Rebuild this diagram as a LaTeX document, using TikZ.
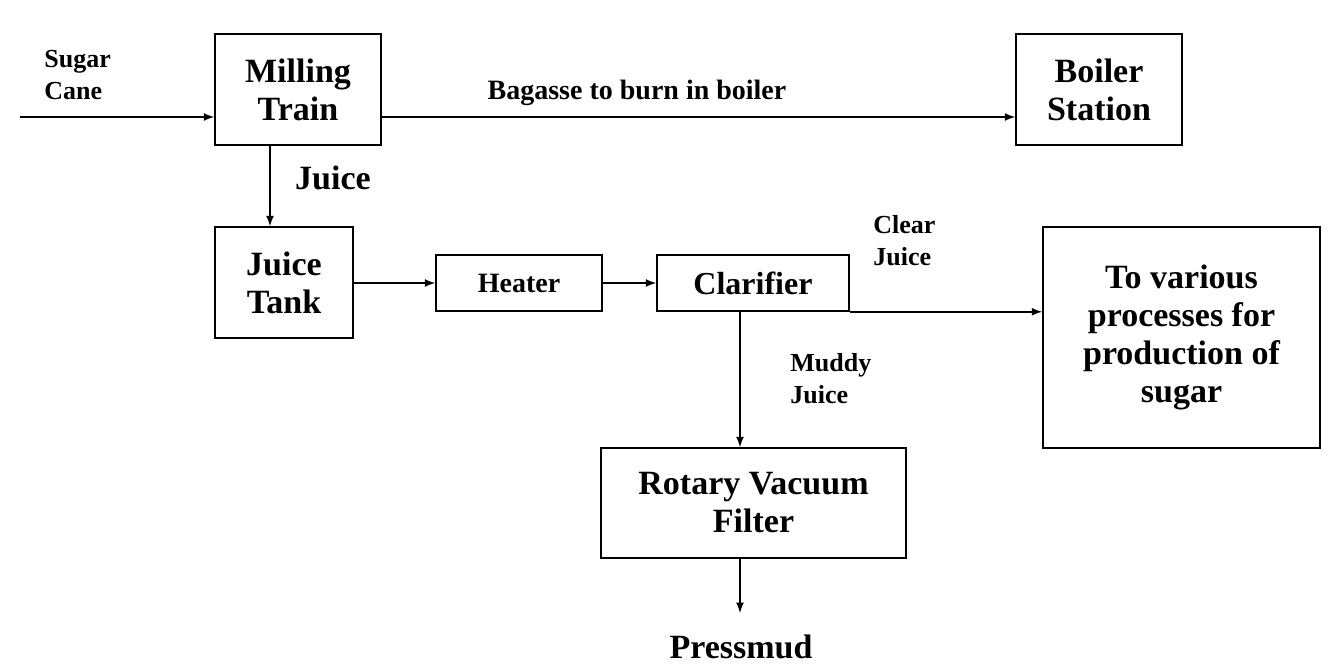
\documentclass[tikz,border=0pt]{standalone}
\usepackage{fontspec}
\setmainfont{Liberation Serif}
\usetikzlibrary{arrows, positioning}

\begin{document}
\begin{tikzpicture}[x=0.5pt, y=-0.5pt]
    \tikzstyle{block} = [rectangle, draw=black, thick, font=\bfseries\fontsize{17}{19}\selectfont, align=center, inner sep=0pt]
    \tikzstyle{small} = [rectangle, draw=black, thick, font=\bfseries\fontsize{14}{16}\selectfont, align=center, inner sep=0pt]
    \tikzstyle{label} = [font=\bfseries\fontsize{13}{16}\selectfont, align=left, inner sep=0pt]
    \tikzstyle{arrow} = [thick,->,>=latex]

    \useasboundingbox (0,0) rectangle (1340,666);

    \node (mill) [block, minimum width=83pt, minimum height=55.5pt] at (298,89.5) {Milling\\Train};
    \node (boiler) [block, minimum width=83pt, minimum height=55.5pt] at (1099,89.5) {Boiler\\Station};
    \node (tank) [block, minimum width=69pt, minimum height=55.5pt] at (284,282.5) {Juice\\Tank};
    \node (heater) [small, minimum width=83pt, minimum height=28pt] at (519,283) {Heater};
    \node (clarifier) [block, font=\bfseries\fontsize{16}{18}\selectfont, minimum width=96pt, minimum height=28pt] at (753,283) {Clarifier};
    \node (process) [block, minimum width=138.5pt, minimum height=110.5pt] at (1181.5,337.5) {To various\\processes for\\production of\\sugar};
    \node (filter) [block, minimum width=152.5pt, minimum height=55pt] at (753.5,503) {Rotary Vacuum\\Filter};
    \node (mud) [font=\bfseries\fontsize{17}{19}\selectfont] at (741,647) {Pressmud};

    \coordinate (cane) at (20,117);
    \coordinate (mudtip) at (740,613);

    \node (canelbl) [label, anchor=north west] at (44,50) {Sugar\\Cane};
    \node (baglbl) [label, font=\bfseries\fontsize{14}{16}\selectfont] at (637,93) {Bagasse to burn in boiler};
    \node (juicelbl) [block, draw=none] at (333,178) {Juice};
    \node (clearlbl) [label, anchor=north west] at (873,215) {Clear\\Juice};
    \node (muddylbl) [label, anchor=north west] at (790,353) {Muddy\\Juice};

    \draw [arrow] (cane) -- (cane -| mill.west);
    \draw [arrow] (mill.east |- cane) -- (boiler.west |- cane);
    \draw [arrow] (mill.south -| tank.north) ++(-14,0) coordinate (m1) -- (m1 |- tank.north);
    \draw [arrow] (tank.east |- heater) -- (heater.west);
    \draw [arrow] (heater.east) -- (clarifier.west);
    \draw [arrow] (clarifier.south east) -- (clarifier.south east -| process.west);
    \draw [arrow] (clarifier.south) ++(-13,0) coordinate (c1) -- (c1 |- filter.north);
    \draw [arrow] (c1 |- filter.south) -- (mudtip);
\end{tikzpicture}
\end{document}
